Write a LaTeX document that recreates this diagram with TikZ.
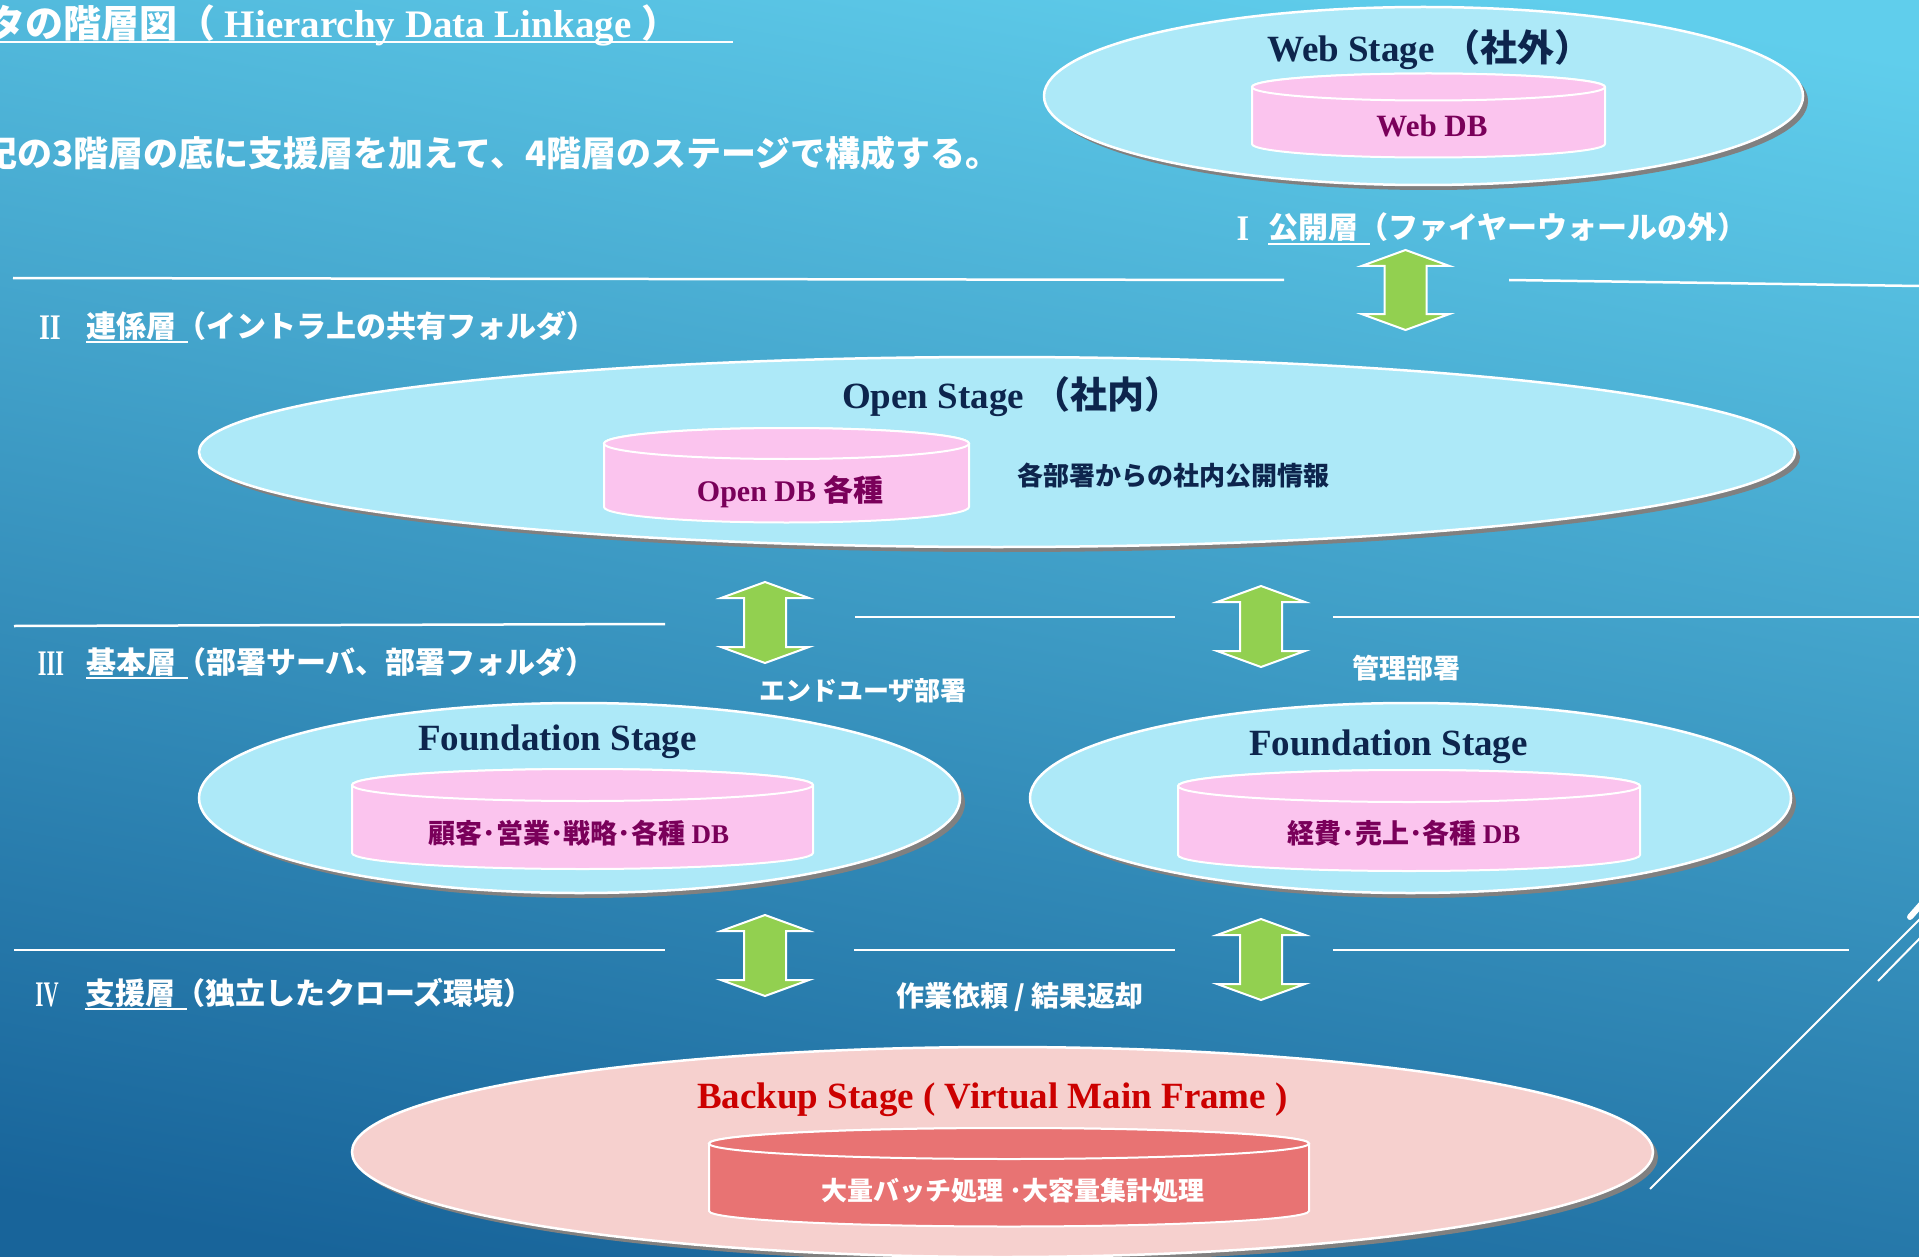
\documentclass[tikz,border=0pt]{standalone}
\usepackage{fontspec}
\usepackage{graphicx}
\usetikzlibrary{shapes.geometric,shadows}
\newfontfamily\jp{Noto Sans CJK JP}
\newfontfamily\tm{Liberation Serif}
\definecolor{bgtop}{RGB}{96,206,236}
\definecolor{bgbot}{RGB}{24,100,154}
\definecolor{stagefill}{RGB}{173,233,248}
\definecolor{dbpink}{RGB}{251,196,238}
\definecolor{bkfill}{RGB}{246,208,206}
\definecolor{bkdbfill}{RGB}{232,115,115}
\definecolor{arrgreen}{RGB}{146,208,80}
\definecolor{shgray}{RGB}{128,128,128}
\definecolor{navy}{RGB}{13,37,77}
\definecolor{dbpurple}{RGB}{122,0,90}
\definecolor{bkred}{RGB}{204,0,0}
\newcommand\ulin[1]{\setbox0\hbox{#1}\rlap{\rule[-6pt]{\wd0}{2pt}}\box0\hspace{-0.4em}}
\newcommand\dblarrow[4]{%
  \coordinate (#1) at (#2,{(#3+#4)/2});
  \draw[dblarr] (#2,#3) -- ++(44,16) -- ++(-23,0) -- (#2+21,#4-16) -- ++(23,0)
    -- (#2,#4) -- ++(-44,-16) -- ++(23,0) -- (#2-21,#3+16) -- ++(-23,0) -- cycle;}
\newcommand\dbcyl[6]{%
  \draw[cylst,fill=#6] (#1-#4,#2) -- (#1-#4,#3)
    arc[start angle=180,end angle=360,x radius=#4pt,y radius=#5pt]
    -- (#1+#4,#2) arc[start angle=0,end angle=180,x radius=#4pt,y radius=#5pt] -- cycle;
  \draw[cylst,fill=#6] (#1,#2) ellipse[x radius=#4pt,y radius=#5pt];}
\tikzset{
  stage/.style={ellipse,draw=white,line width=2.5pt,fill=stagefill,inner sep=0pt,
    drop shadow={shadow xshift=5pt,shadow yshift=-5pt,fill=shgray,opacity=1}},
  layerline/.style={draw=white,line width=2.5pt},
  decoline/.style={draw=white,line width=2pt},
  dblarr/.style={fill=arrgreen,draw=white,line width=2pt,line join=miter},
  cylst/.style={draw=white,line width=2pt},
  lbl/.style={text=white,font=\jp\bfseries\fontsize{30}{32}\selectfont,inner sep=0pt},
  numeral/.style={text=white,font=\tm\bfseries\fontsize{36}{38}\selectfont,inner sep=0pt},
  note/.style={text=white,font=\jp\bfseries\fontsize{27}{30}\selectfont,inner sep=0pt},
  stitle/.style={text=navy,font=\tm\bfseries\fontsize{37}{40}\selectfont,inner sep=0pt},
  dbtext/.style={text=dbpurple,font=\jp\bfseries\fontsize{27}{30}\selectfont,inner sep=0pt},
}
\begin{document}
\begin{tikzpicture}[x=1pt,y=-1pt]
\useasboundingbox (0,0) rectangle (1919,1257);
\clip (0,0) rectangle (1919,1257);
\shade[top color=bgtop,bottom color=bgbot,shading angle=-10] (-50,-50) rectangle (1969,1307);

% title and subtitle
\node[text=white,inner sep=0pt,anchor=base west,font=\jp\bfseries\fontsize{38}{40}\selectfont] (title) at (-13,38)
  {タの階層図（{\tm\fontsize{39}{40}\selectfont\ Hierarchy Data Linkage }）};
\draw[white,line width=2.5pt] (0,42) -- (733,42);
\node[text=white,inner sep=0pt,anchor=base west,font=\jp\bfseries\fontsize{35}{38}\selectfont] (sub) at (-18,167)
  {記の3階層の底に支援層を加えて、4階層のステージで構成する。};

% layer separator lines
\draw[layerline] (13,278) -- (1284,280);
\draw[layerline] (1509,280) -- (1919,286);
\draw[layerline] (14,626) -- (665,624);
\draw[layerline] (855,617) -- (1175,617);
\draw[layerline] (1333,617) -- (1919,617);
\draw[layerline] (14,950) -- (665,950);
\draw[layerline] (854,950) -- (1175,950);
\draw[layerline] (1333,950) -- (1849,950);

% decorative diagonals
\draw[decoline] (1650,1189) -- (1925,914);
\draw[decoline] (1878,981) -- (1925,933);
\draw[white,line width=6pt,line cap=round] (1910,917) -- (1925,900);

% layer labels
\node[numeral,anchor=base] (n1) at (1243,241) {\scalebox{0.9}[1]{I}};
\node[lbl,anchor=base west] (l1) at (1268,239) {\ulin{公開層\hspace{0.4em}}（ファイヤーウォールの外）};
\node[numeral,anchor=base] (n2) at (50,339) {\scalebox{0.78}[1]{II}};
\node[lbl,anchor=base west] (l2) at (86,337) {\ulin{連係層\hspace{0.4em}}（イントラ上の共有フォルダ）};
\node[numeral,anchor=base] (n3) at (51,675) {\scalebox{0.62}[1]{III}};
\node[lbl,anchor=base west] (l3) at (86,673) {\ulin{基本層\hspace{0.4em}}（部署サーバ、部署フォルダ）};
\node[numeral,anchor=base] (n4) at (47,1006) {\scalebox{0.58}[1]{IV}};
\node[lbl,anchor=base west] (l4) at (85,1004) {\ulin{支援層\hspace{0.4em}}（独立したクローズ環境）};

% Web stage
\node[stage,minimum width=759pt,minimum height=178pt] (web) at (1423.5,96) {};
\dbcyl{1428.5}{87}{144}{176.5}{13.5}{dbpink}
\node[stitle,anchor=base west] (webt) at (1267,62) {Web Stage \jp （社外）};
\node[dbtext,anchor=base,font=\tm\bfseries\fontsize{31}{34}\selectfont] (webdb) at (1432,137) {Web DB};

% Open stage
\node[stage,minimum width=1596pt,minimum height=190pt] (open) at (997,452) {};
\dbcyl{786.5}{443.5}{507}{182.5}{15.5}{dbpink}
\node[stitle,anchor=base west] (opent) at (842,408) {Open Stage \jp （社内）};
\node[dbtext,anchor=base,font=\jp\bfseries\fontsize{30}{33}\selectfont] (opendb) at (790,501) {{\tm Open DB} 各種};
\node[text=navy,inner sep=0pt,anchor=base west,font=\jp\bfseries\fontsize{26}{28}\selectfont] (openinfo) at (1017,485) {各部署からの社内公開情報};

% Foundation stages
\node[stage,minimum width=761pt,minimum height=190pt] (fl) at (579.5,798) {};
\dbcyl{582.5}{785}{853}{230.5}{16}{dbpink}
\node[stitle,anchor=base west] (flt) at (418,750) {Foundation Stage};
\node[dbtext,anchor=base] (fldb) at (579,843) {顧客･営業･戦略･各種 {\tm DB}};

\node[stage,minimum width=761pt,minimum height=190pt] (fr) at (1410.5,798) {};
\dbcyl{1409}{786}{855}{231}{16}{dbpink}
\node[stitle,anchor=base west] (frt) at (1249,755) {Foundation Stage};
\node[dbtext,anchor=base] (frdb) at (1404,843) {経費･売上･各種 {\tm DB}};

% Backup stage
\node[stage,fill=bkfill,minimum width=1301pt,minimum height=210pt] (bk) at (1002.5,1152) {};
\dbcyl{1009}{1143.5}{1211}{300}{15.5}{bkdbfill}
\node[stitle,text=bkred,anchor=base west] (bkt) at (697,1108) {Backup Stage ( Virtual Main Frame )};
\node[dbtext,text=white,anchor=base,font=\jp\bfseries\fontsize{26}{28}\selectfont] (bkdb) at (1013,1200) {大量バッチ処理 ･大容量集計処理};

% notes
\node[note,anchor=base west,font=\jp\bfseries\fontsize{26}{28}\selectfont] (enduser) at (759,700) {エンドユーザ部署};
\node[note,anchor=base west] (kanri) at (1352,678) {管理部署};
\node[note,anchor=base west,font=\jp\bfseries\fontsize{28}{30}\selectfont] (sagyo) at (896,1006) {作業依頼 / 結果返却};

% double arrows between stages
\dblarrow{aweb}{1405.5}{250}{330}
\dblarrow{aol}{765}{582}{663}
\dblarrow{aor}{1261}{586}{667}
\dblarrow{abl}{765}{915}{996}
\dblarrow{abr}{1261}{919}{1000}
\end{tikzpicture}
\end{document}
